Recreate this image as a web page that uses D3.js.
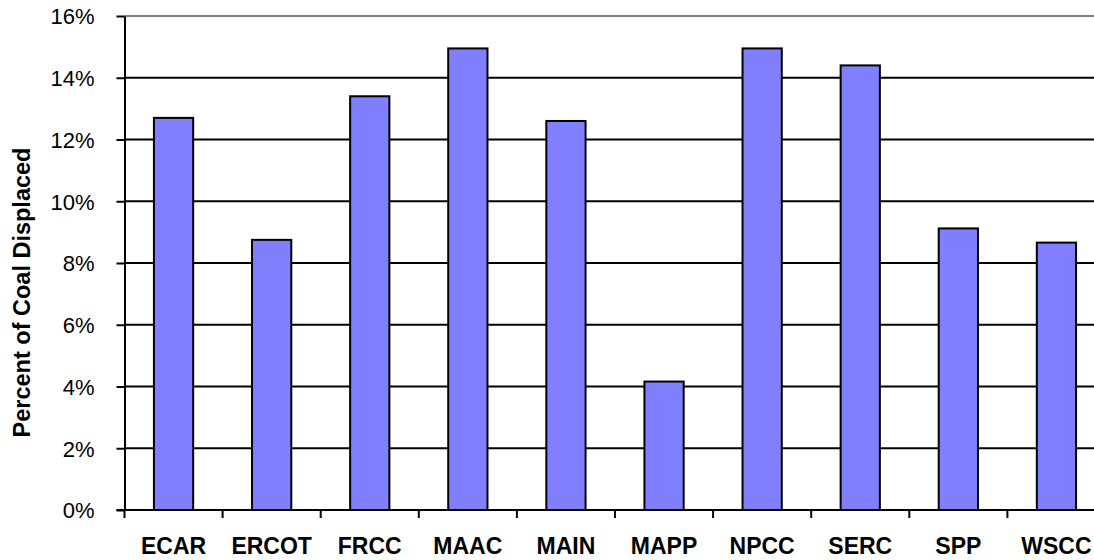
<!DOCTYPE html>
<html>
<head>
<meta charset="utf-8">
<script src="https://cdn.jsdelivr.net/npm/d3@7"></script>
<style>
  body { margin: 0; background: #fff; }
  svg { display: block; font-family: "Liberation Sans", Arial, sans-serif; }
</style>
</head>
<body>
<div id="chart"></div>
<script>
// regions and percent of coal displaced
var regions = ["ECAR", "ERCOT", "FRCC", "MAAC", "MAIN", "MAPP", "NPCC", "SERC", "SPP", "WSCC"];
var displaced = [12.7, 8.75, 13.4, 14.95, 12.6, 4.16, 14.95, 14.4, 9.12, 8.66];
var yTicks = [0, 2, 4, 6, 8, 10, 12, 14, 16];

var width = 1094;
var height = 560;
// plot area (runs a little past the right edge, like the original)
var plotLeft = 124.5, plotRight = 1105.5, plotTop = 16, plotBottom = 510;

var svg = d3.select("#chart").append("svg")
    .attr("width", width)
    .attr("height", height);

svg.append("rect").attr("width", width).attr("height", height).attr("fill", "#fff");

var x = d3.scaleBand()
    .domain(regions)
    .range([plotLeft, plotRight])
    .paddingInner(0.6)
    .paddingOuter(0.3);

var y = d3.scaleLinear()
    .domain([0, 16])
    .range([plotBottom, plotTop]);

// gridlines (top one is gray, the rest black)
svg.selectAll("line.grid")
    .data(yTicks.filter(d => d > 0))
    .enter().append("line")
    .attr("class", "grid")
    .attr("x1", plotLeft)
    .attr("x2", plotRight)
    .attr("y1", d => y(d))
    .attr("y2", d => y(d))
    .style("stroke", d => d === 16 ? "#808080" : "#000")
    .style("stroke-width", 2);

// bars
svg.selectAll("rect.bar")
    .data(regions)
    .enter().append("rect")
    .attr("class", "bar")
    .attr("x", d => x(d))
    .attr("width", x.bandwidth())
    .attr("y", (d, i) => y(displaced[i]))
    .attr("height", (d, i) => y(0) - y(displaced[i]))
    .style("fill", "#8080ff")
    .style("stroke", "#000")
    .style("stroke-width", 2);

// y axis
var yAxis = svg.append("g")
    .attr("transform", "translate(" + plotLeft + ",0)")
    .call(d3.axisLeft(y).tickValues(yTicks).tickFormat(d => d + "%").tickSize(8).tickSizeOuter(0).tickPadding(22));
yAxis.select(".domain").style("stroke", "#000").style("stroke-width", 2);
yAxis.selectAll(".tick line").style("stroke", "#000").style("stroke-width", 2);
yAxis.selectAll(".tick text")
    .style("font-size", "22px")
    .style("font-family", "'Liberation Sans', Arial, sans-serif")
    .style("fill", "#000")
    .attr("dy", "0.36em");

// x axis: ticks sit on category boundaries
var xAxis = svg.append("g")
    .attr("transform", "translate(0," + plotBottom + ")");
xAxis.append("line")
    .attr("x1", plotLeft - 8).attr("x2", plotRight)
    .style("stroke", "#000").style("stroke-width", 2);
xAxis.selectAll("line.tk")
    .data(regions)
    .enter().append("line")
    .attr("class", "tk")
    .attr("x1", d => x(d) - x.step() * x.paddingOuter())
    .attr("x2", d => x(d) - x.step() * x.paddingOuter())
    .attr("y1", 0).attr("y2", 8)
    .style("stroke", "#000").style("stroke-width", 2);
xAxis.selectAll("text")
    .data(regions)
    .enter().append("text")
    .attr("x", d => x(d) + x.bandwidth() / 2)
    .attr("y", 44)
    .attr("text-anchor", "middle")
    .style("font-size", "23px")
    .style("font-weight", "bold")
    .style("fill", "#000")
    .text(d => d);

// y title
svg.append("text")
    .attr("transform", "translate(29.5,292.5) rotate(-90)")
    .attr("text-anchor", "middle")
    .style("font-size", "23.5px")
    .style("font-weight", "bold")
    .style("fill", "#000")
    .text("Percent of Coal Displaced");
</script>
</body>
</html>
